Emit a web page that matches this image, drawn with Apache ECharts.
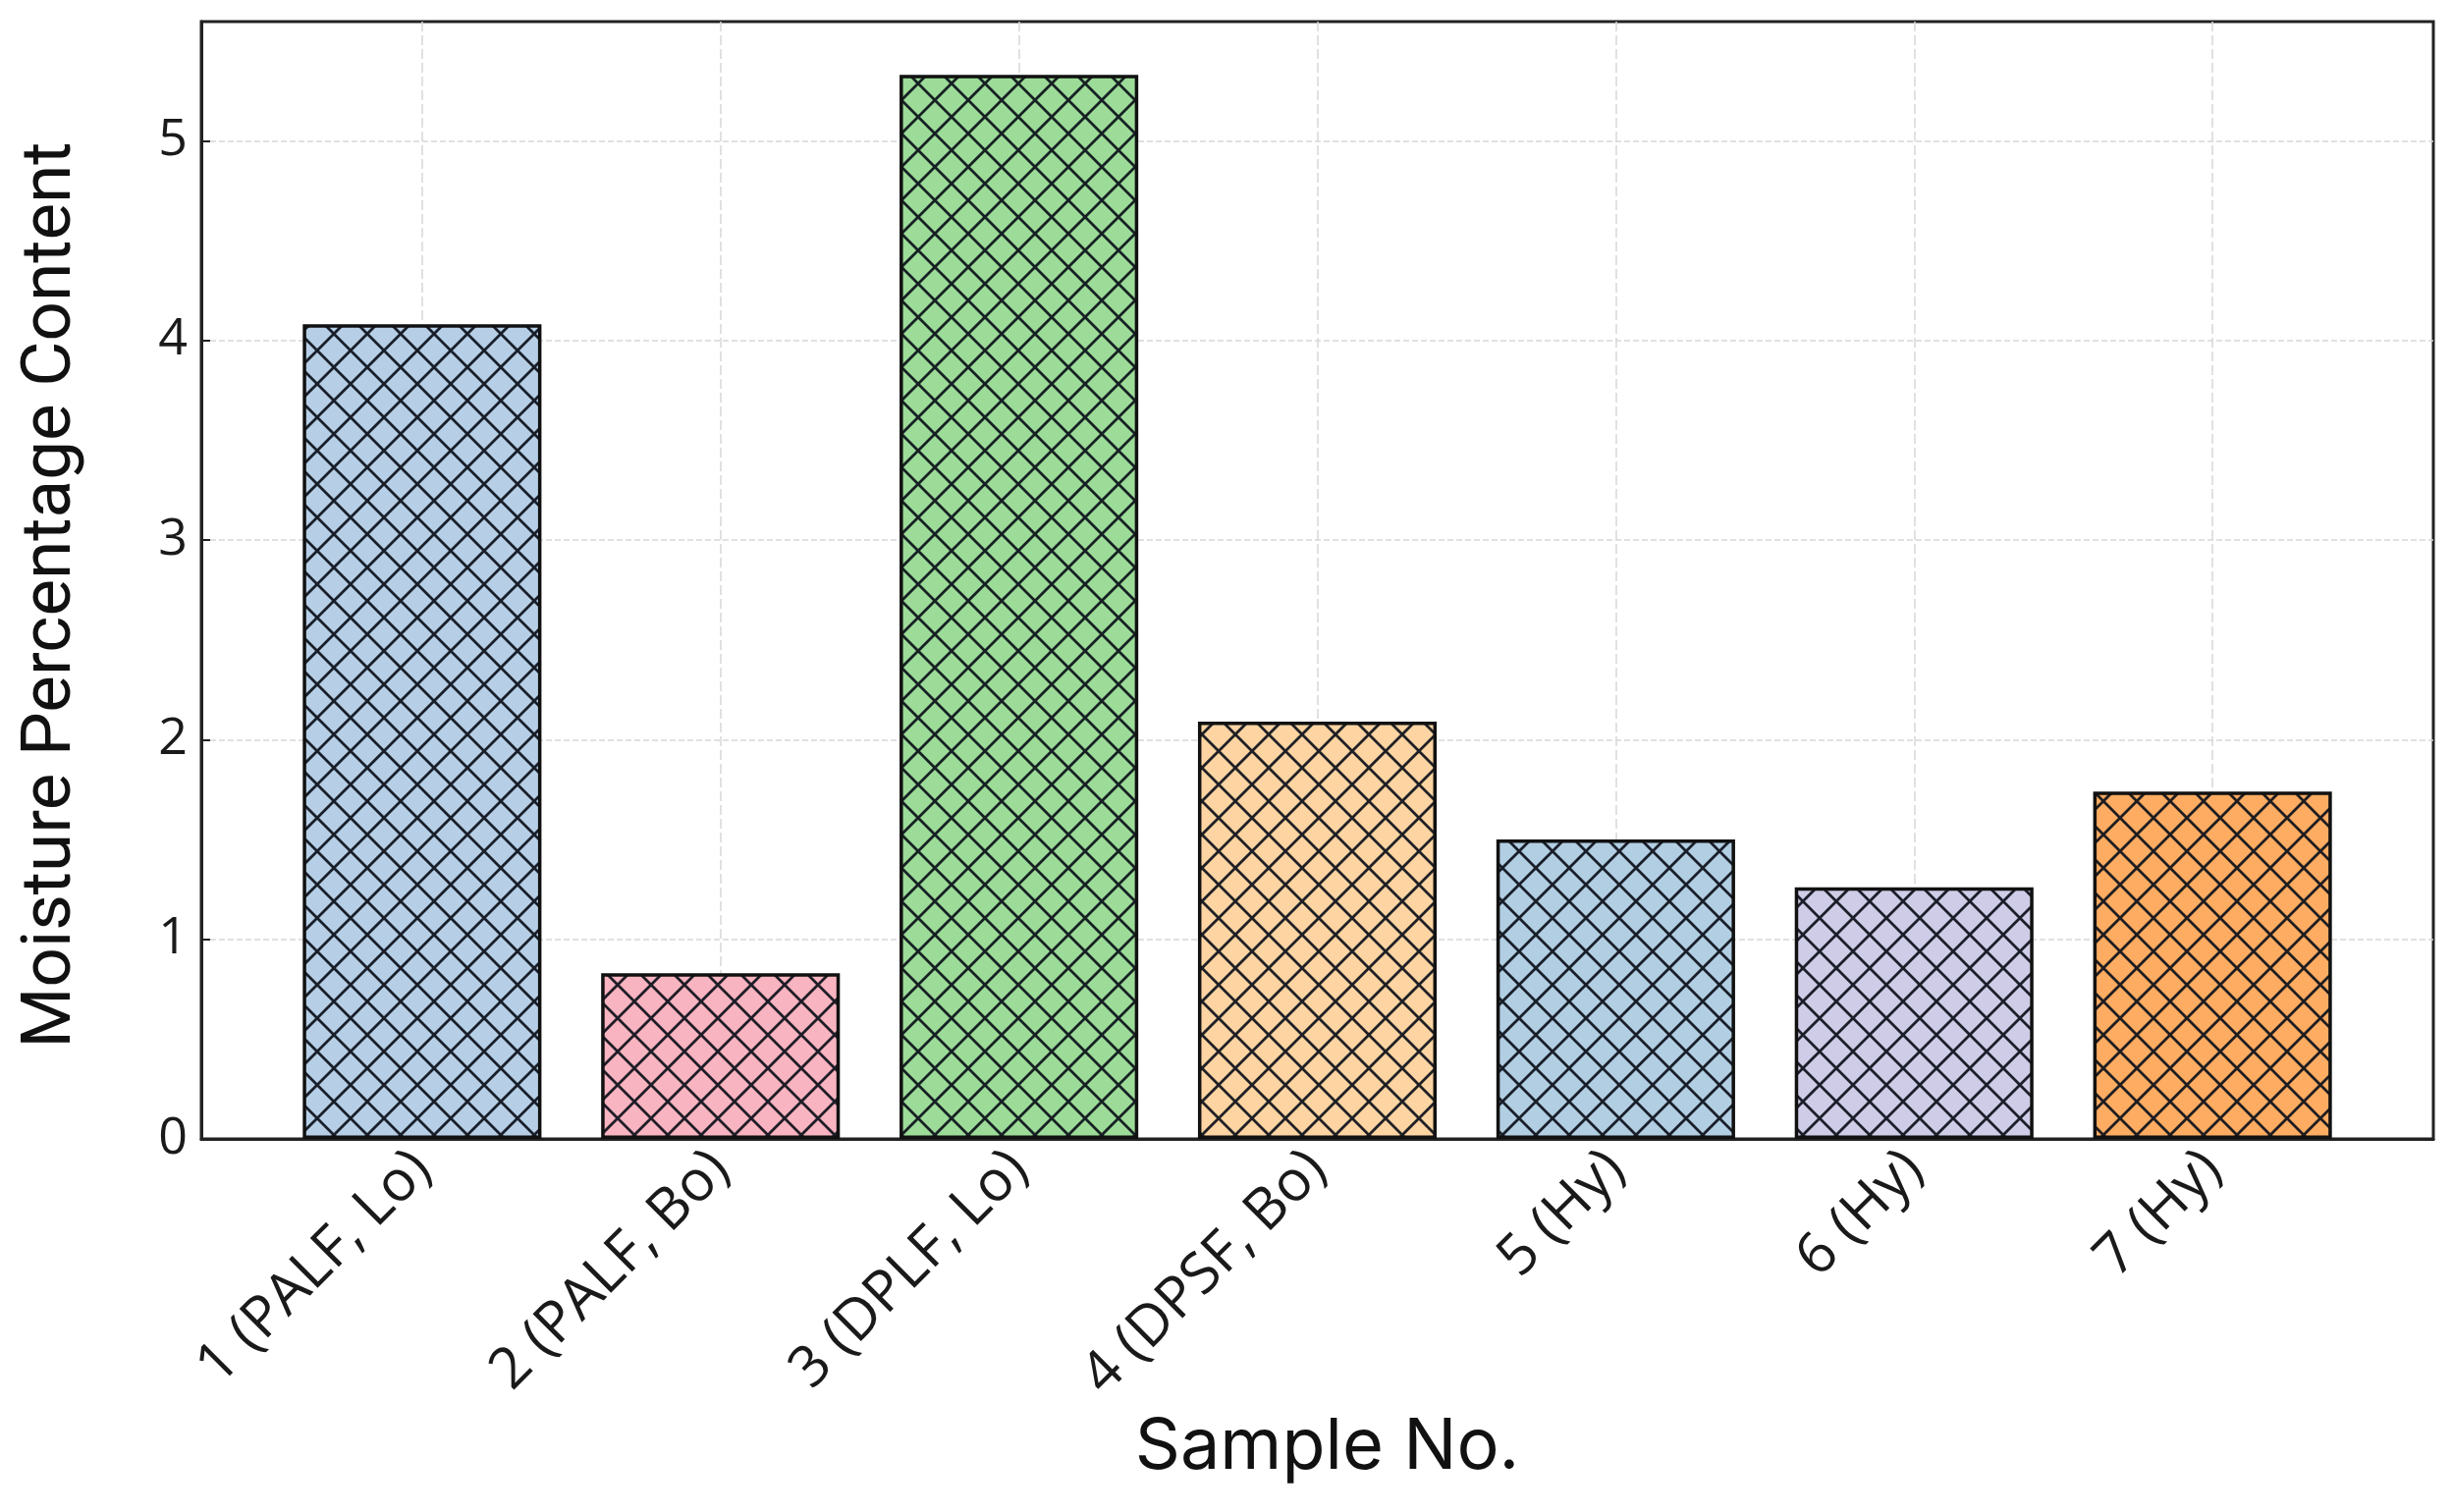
<!DOCTYPE html>
<html>
<head>
<meta charset="utf-8">
<script src="https://cdn.jsdelivr.net/npm/echarts@6/dist/echarts.min.js"></script>
<style>
html,body{margin:0;padding:0;background:#fff;}
#chart{width:2497px;height:1540px;}
</style>
</head>
<body>
<div id="chart"></div>
<script>
// ---- data ----
const categories = ['1 (PALF, Lo)', '2 (PALF, Bo)', '3 (DPLF, Lo)', '4 (DPSF, Bo)', '5 (Hy)', '6 (Hy)', '7 (Hy)'];
const moisture = [4.08, 0.83, 5.33, 2.09, 1.50, 1.26, 1.74];
const barColors = ['#b6cfe6', '#f8b4c0', '#9cdc98', '#fdd4a2', '#b2cee2', '#cfcce7', '#fdac62'];
const yTicks = [0, 1, 2, 3, 4, 5];
const xTitle = 'Sample No.';
const yTitle = 'Moisture Percentage Content';

// ---- hatch pattern (matplotlib 'xx') ----
function hatch(color) {
  const p = 34;
  const c = document.createElement('canvas');
  c.width = p; c.height = p;
  const g = c.getContext('2d');
  g.fillStyle = color;
  g.fillRect(0, 0, p, p);
  g.strokeStyle = 'rgba(12,16,26,0.92)';
  g.lineWidth = 2.8;
  g.beginPath();
  for (let k = -1; k <= 1; k++) {
    g.moveTo(k * p, 0); g.lineTo(k * p + p, p);
    g.moveTo(k * p, p); g.lineTo(k * p + p, 0);
  }
  g.stroke();
  return { image: c, repeat: 'repeat' };
}

const isInt = v => Math.abs(v - Math.round(v)) < 1e-6;
const yMax = Math.max(...moisture) * 1.05;
const xPad = 0.74;

const chart = echarts.init(document.getElementById('chart'), null, { renderer: 'canvas' });
const option = {
  backgroundColor: '#ffffff',
  animation: false,
  grid: {
    left: 205, top: 22, right: 2497 - 2478, bottom: 1540 - 1160,
    show: true, borderColor: '#222', borderWidth: 3, backgroundColor: 'transparent'
  },
  xAxis: {
    type: 'value',
    min: -xPad,
    max: categories.length - 1 + xPad,
    splitNumber: 7,
    minInterval: 1,
    maxInterval: 1,
    name: xTitle,
    nameLocation: 'middle',
    nameGap: 276,
    nameTextStyle: { fontFamily: 'Inter', fontSize: 72, color: '#111', padding: [0, 0, 0, 20] },
    axisLine: { show: true, onZero: false, lineStyle: { color: '#222', width: 3 } },
    axisTick: { show: true, inside: true, length: 8, lineStyle: { color: '#222', width: 2 } },
    axisLabel: {
      rotate: 45,
      margin: 22,
      fontFamily: 'Open Sans',
      fontSize: 58,
      color: '#1a1a1a',
      formatter: v => isInt(v) ? (categories[Math.round(v)] || '') : ''
    },
    splitLine: { show: true, showMinLine: false, showMaxLine: false, lineStyle: { color: '#d8d8d8', width: 1.5, type: [10, 4] } }
  },
  yAxis: {
    type: 'value',
    min: yTicks[0],
    max: yMax,
    interval: 1,
    name: yTitle,
    nameLocation: 'middle',
    nameGap: 116,
    nameTextStyle: { fontFamily: 'Roboto', fontSize: 71, color: '#111', padding: [0, 0, 0, -30] },
    axisLine: { show: true, onZero: false, lineStyle: { color: '#222', width: 3 } },
    axisTick: { show: true, inside: true, length: 9, lineStyle: { color: '#222', width: 2 } },
    axisLabel: {
      margin: 14,
      fontFamily: 'Open Sans',
      fontSize: 52,
      color: '#1a1a1a',
      formatter: v => (isInt(v) && yTicks.includes(Math.round(v))) ? String(Math.round(v)) : ''
    },
    splitLine: { show: true, showMinLine: false, showMaxLine: false, lineStyle: { color: '#d8d8d8', width: 1.5, type: [6, 3] } }
  },
  series: [{
    type: 'bar',
    barWidth: '80%',
    data: moisture.map((v, i) => ({
      value: [i, v],
      itemStyle: { color: hatch(barColors[i]), borderColor: '#111', borderWidth: 3.5 }
    }))
  }]
};
chart.setOption(option);
</script>
</body>
</html>
